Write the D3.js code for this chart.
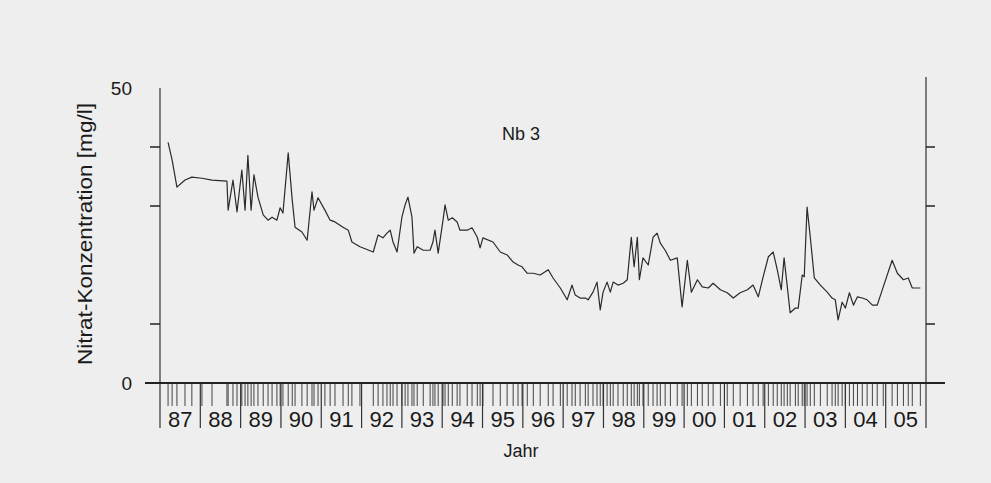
<!DOCTYPE html>
<html>
<head>
<meta charset="utf-8">
<script src="https://cdn.jsdelivr.net/npm/d3@7"></script>
<style>
  html, body { margin: 0; padding: 0; background: #eeeeee; }
  svg { display: block; }
  text { font-family: "Liberation Sans", Arial, Helvetica, sans-serif; fill: #1a1a1a; }
</style>
</head>
<body>
<div id="chart"></div>
<script>
// Nitrat-Konzentration, Messstelle Nb 3 (decimal year, mg/l)
const dates = [
  1987.20, 1987.30, 1987.42, 1987.62, 1987.79, 1988.04, 1988.29, 1988.66, 1988.69, 1988.81,
  1988.91, 1989.03, 1989.11, 1989.18, 1989.26, 1989.33, 1989.43, 1989.56, 1989.68, 1989.78,
  1989.90, 1989.98, 1990.05, 1990.18, 1990.28, 1990.35, 1990.52, 1990.65, 1990.77, 1990.82,
  1990.92, 1991.09, 1991.22, 1991.34, 1991.54, 1991.67, 1991.76, 1991.96, 1992.29, 1992.41,
  1992.53, 1992.63, 1992.71, 1992.78, 1992.88, 1993.00, 1993.08, 1993.15, 1993.25, 1993.30,
  1993.38, 1993.53, 1993.70, 1993.77, 1993.82, 1993.90, 1994.02, 1994.07, 1994.15, 1994.25,
  1994.37, 1994.44, 1994.62, 1994.74, 1994.87, 1994.94, 1995.01, 1995.26, 1995.44, 1995.61,
  1995.76, 1995.88, 1995.98, 1996.11, 1996.26, 1996.43, 1996.63, 1996.75, 1996.93, 1997.10,
  1997.22, 1997.30, 1997.42, 1997.55, 1997.62, 1997.74, 1997.84, 1997.92, 1997.99, 1998.09,
  1998.17, 1998.24, 1998.36, 1998.49, 1998.59, 1998.69, 1998.76, 1998.84, 1998.89, 1998.98,
  1999.11, 1999.23, 1999.33, 1999.41, 1999.53, 1999.66, 1999.83, 1999.95, 2000.08, 2000.18,
  2000.33, 2000.45, 2000.60, 2000.72, 2000.90, 2001.07, 2001.22, 2001.39, 2001.57, 2001.71,
  2001.84, 2001.96, 2002.09, 2002.21, 2002.31, 2002.41, 2002.48, 2002.56, 2002.63, 2002.76,
  2002.83, 2002.93, 2002.98, 2003.05, 2003.13, 2003.23, 2003.38, 2003.55, 2003.67, 2003.75,
  2003.82, 2003.92, 2004.00, 2004.10, 2004.20, 2004.30, 2004.42, 2004.54, 2004.67, 2004.79,
  2004.94, 2005.16, 2005.29, 2005.44, 2005.56, 2005.66, 2005.86
];
const values = [
  40.8, 37.8, 33.2, 34.4, 34.9, 34.7, 34.4, 34.2, 29.3, 34.4,
  29.0, 36.1, 29.3, 38.6, 29.3, 35.3, 31.5, 28.5, 27.6, 28.1,
  27.6, 29.7, 28.8, 39.0, 31.0, 26.4, 25.6, 24.2, 32.4, 29.3,
  31.4, 29.3, 27.6, 27.3, 26.4, 25.9, 23.9, 23.1, 22.2, 25.1,
  24.6, 25.4, 25.9, 23.9, 22.2, 28.1, 30.2, 31.5, 28.1, 22.0,
  23.1, 22.5, 22.5, 23.9, 25.9, 22.0, 27.6, 30.2, 27.6, 28.0,
  27.3, 25.9, 25.9, 26.3, 24.7, 22.9, 24.6, 23.9, 22.2, 21.7,
  20.5, 20.0, 19.7, 18.6, 18.6, 18.3, 19.2, 17.8, 16.1, 14.1,
  16.6, 14.9, 14.4, 14.4, 14.1, 15.4, 17.1, 12.4, 15.4, 17.1,
  15.4, 17.1, 16.6, 16.9, 17.5, 24.7, 19.7, 24.7, 17.5, 21.2,
  20.0, 24.7, 25.4, 23.7, 22.5, 20.8, 21.2, 12.9, 20.8, 15.4,
  17.5, 16.3, 16.1, 16.9, 15.8, 15.3, 14.4, 15.3, 15.8, 16.6,
  14.6, 18.0, 21.4, 22.2, 19.2, 15.8, 21.2, 16.3, 11.9, 12.7,
  12.7, 18.3, 18.0, 29.8, 24.7, 17.8, 16.6, 15.4, 14.4, 14.1,
  10.7, 13.7, 12.7, 15.3, 13.2, 14.6, 14.4, 14.1, 13.2, 13.2,
  16.3, 20.8, 18.6, 17.5, 17.8, 16.1, 16.1
];
const yearLabels = ["87", "88", "89", "90", "91", "92", "93", "94", "95", "96",
                    "97", "98", "99", "00", "01", "02", "03", "04", "05"];
const yTicks = [10, 30, 40];
const yLabels = [0, 50];

const width = 991, height = 483;
const firstYear = 1987;

const x = d3.scaleLinear().domain([firstYear, firstYear + yearLabels.length]).range([160, 926]);
const y = d3.scaleLinear().domain([0, 50]).range([383, 88]);

const svg = d3.select("#chart").append("svg").attr("width", width).attr("height", height);

// rug of sampling dates
svg.append("g").selectAll("line")
    .data(dates)
    .join("line")
    .attr("x1", d => x(d)).attr("x2", d => x(d))
    .attr("y1", y(0)).attr("y2", y(0) + 23)
    .attr("stroke", "#444")
    .attr("stroke-width", 1);

// year boundaries
const bounds = d3.range(yearLabels.length + 1).map(i => firstYear + i);
svg.append("g").selectAll("line")
    .data(bounds)
    .join("line")
    .attr("x1", d => x(d)).attr("x2", d => x(d))
    .attr("y1", y(0)).attr("y2", y(0) + 45)
    .attr("stroke", "#333")
    .attr("stroke-width", 1.2);

svg.append("g").selectAll("text")
    .data(yearLabels)
    .join("text")
    .attr("x", (d, i) => x(firstYear + i + 0.5))
    .attr("y", y(0) + 44)
    .attr("text-anchor", "middle")
    .style("font-size", "22px")
    .text(d => d);

// left axis
svg.append("line")
    .attr("x1", x(firstYear)).attr("x2", x(firstYear))
    .attr("y1", y(50)).attr("y2", y(0))
    .attr("stroke", "#333").attr("stroke-width", 1.2);
svg.append("g").selectAll("line")
    .data(yTicks)
    .join("line")
    .attr("x1", x(firstYear) - 10).attr("x2", x(firstYear))
    .attr("y1", d => y(d)).attr("y2", d => y(d))
    .attr("stroke", "#222").attr("stroke-width", 1.5);
svg.append("g").selectAll("text")
    .data(yLabels)
    .join("text")
    .attr("x", 132)
    .attr("y", d => y(d))
    .attr("dy", "0.35em")
    .attr("text-anchor", "end")
    .style("font-size", "19px")
    .text(d => d);

// right axis
const xEnd = x(firstYear + yearLabels.length);
svg.append("line")
    .attr("x1", xEnd).attr("x2", xEnd)
    .attr("y1", 77).attr("y2", y(0))
    .attr("stroke", "#333").attr("stroke-width", 1.2);
svg.append("g").selectAll("line")
    .data(yTicks)
    .join("line")
    .attr("x1", xEnd).attr("x2", xEnd + 9)
    .attr("y1", d => y(d)).attr("y2", d => y(d))
    .attr("stroke", "#222").attr("stroke-width", 1.5);

// baseline
svg.append("line")
    .attr("x1", 145).attr("x2", 945)
    .attr("y1", y(0)).attr("y2", y(0))
    .attr("stroke", "#222").attr("stroke-width", 1.8);

// concentration line
const line = d3.line()
    .x((d, i) => x(dates[i]))
    .y(d => y(d));
svg.append("path")
    .datum(values)
    .attr("d", line)
    .attr("fill", "none")
    .attr("stroke", "#2a2a2a")
    .attr("stroke-width", 1.2)
    .attr("stroke-linejoin", "round");

// texts
svg.append("text")
    .attr("x", 521).attr("y", 140)
    .attr("text-anchor", "middle")
    .style("font-size", "18px")
    .text("Nb 3");

svg.append("text")
    .attr("x", 521).attr("y", 457)
    .attr("text-anchor", "middle")
    .style("font-size", "18px")
    .text("Jahr");

svg.append("text")
    .attr("transform", "translate(92,234) rotate(-90)")
    .attr("text-anchor", "middle")
    .attr("textLength", 262)
    .attr("lengthAdjust", "spacingAndGlyphs")
    .style("font-size", "20px")
    .text("Nitrat-Konzentration [mg/l]");
</script>
</body>
</html>
